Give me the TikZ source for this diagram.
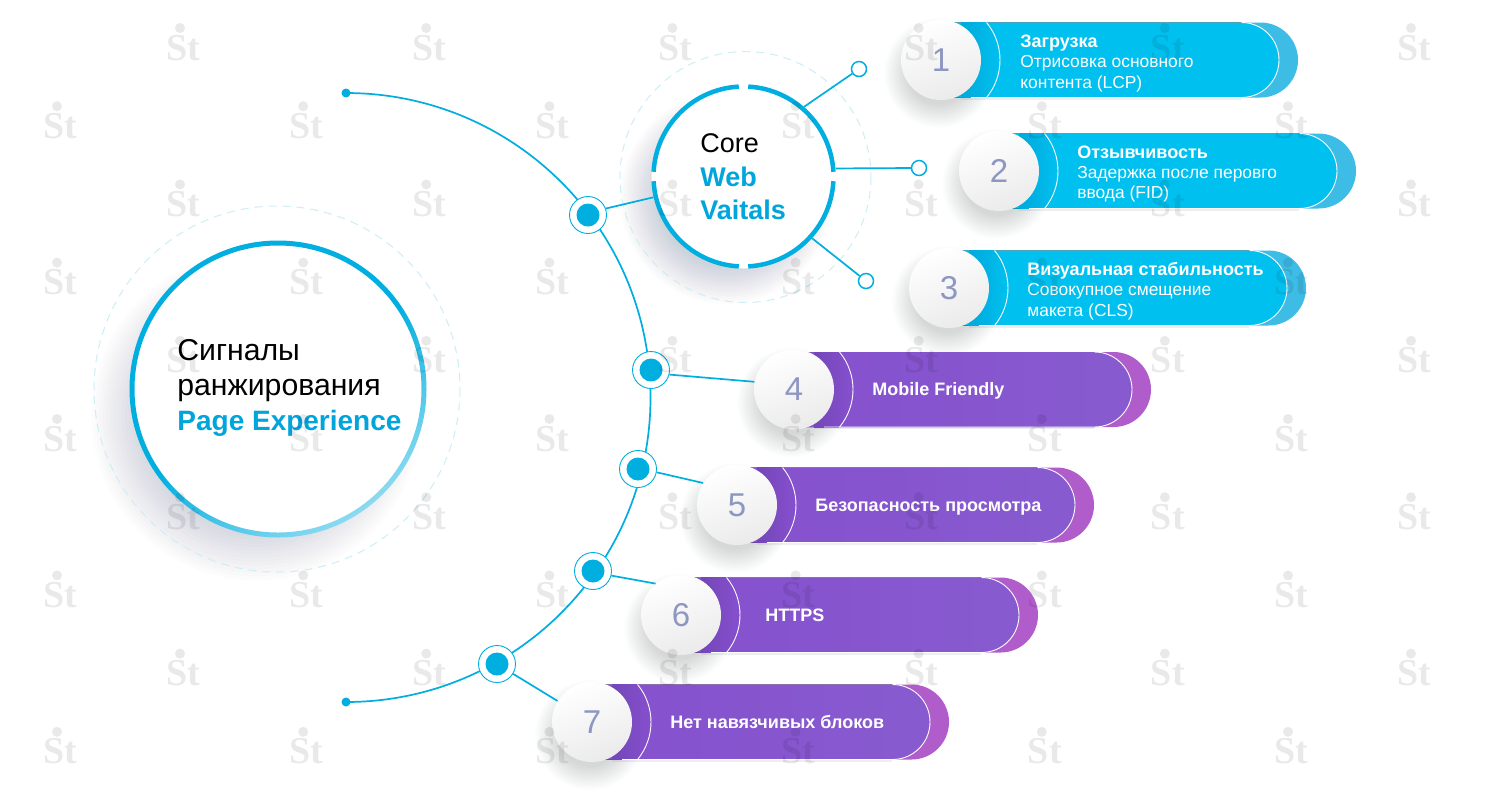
\documentclass[tikz,border=0pt]{standalone}
\usepackage{fontspec}
\setmainfont{Liberation Sans}
\newfontfamily\wmfont{Liberation Serif}
\definecolor{cyanline}{HTML}{00AEDF}
\definecolor{cyanbar}{HTML}{00C0EF}
\definecolor{cyanbardark}{HTML}{00A9DC}
\definecolor{cyanend}{HTML}{3DBCE6}
\definecolor{purpleft}{HTML}{8650CE}
\definecolor{purpbar}{HTML}{8F52D2}
\definecolor{purpbardark}{HTML}{7446B8}
\definecolor{purpright}{HTML}{875BCF}
\definecolor{purpend}{HTML}{B15CCB}
\definecolor{numcol}{HTML}{8E96C2}
\definecolor{dashcol}{HTML}{CDEEF7}
\definecolor{titlecol}{HTML}{00A5DB}
\definecolor{shadowcol}{HTML}{52627A}
\tikzset{
  conn/.style={draw=cyanline,line width=.85pt},
  dashring/.style={draw=dashcol,line width=.5pt,dash pattern=on 4pt off 3pt},
  hubring/.style={circle,draw=cyanline,line width=.45pt,fill=white,minimum size=18.5pt,inner sep=0pt},
  hubdot/.style={circle,fill=cyanline,minimum size=11.5pt,inner sep=0pt},
  enddot/.style={circle,fill=cyanline,minimum size=4.5pt,inner sep=0pt},
  endring/.style={circle,draw=cyanline,line width=.75pt,fill=white,minimum size=7.5pt,inner sep=0pt},
  numc/.style={circle,minimum size=40pt,inner sep=0pt,left color=white,right color=black!8,shading angle=20,text=numcol,font=\fontsize{16.5}{18}\selectfont},
  bigt/.style={anchor=base west,inner sep=0pt,font=\fontsize{15.1}{16}\selectfont},
  coret/.style={anchor=base west,inner sep=0pt,font=\fontsize{13.5}{16}\selectfont},
  barhead/.style={anchor=base west,inner sep=0pt,text=white,font=\fontsize{9}{10}\selectfont\bfseries},
  barline/.style={anchor=base west,inner sep=0pt,text=white,font=\fontsize{8.7}{10}\selectfont},
  barone/.style={anchor=base west,inner sep=0pt,text=white,font=\fontsize{9}{10}\selectfont\bfseries},
  wm/.style={anchor=base,inner sep=0pt,text=black,text opacity=.085,font=\fontsize{19}{20}\selectfont\wmfont\bfseries}
}
% soft shadow as a stack of faint discs: #1 cx, #2 cy, #3 radius, #4 opacity per disc
\newcommand\softdisc[4]{
  \foreach \k in {1,...,20}{
    \fill[shadowcol,opacity=#4] (#1,#2) circle[radius={#3*(1-0.022*\k)}];
  }
}
% #1 cx, #2 cy, #3 end colour, #4 dark, #5 left, #6 main, #7 right, #8 name, #9 number
\newcommand\pillbar[9]{
  \softdisc{#1-2}{#2+13}{56}{.010}
  \fill[shadowcol,opacity=.10] (#1+20,#2+37.5) rectangle (#1+300,#2+39.5);
  \fill[#3] (#1,#2-37.5) -- ({#1+357-37.5},#2-37.5) arc[start angle=-90,end angle=90,radius=37.5] -- (#1,#2+37.5) -- cycle;
  \fill[left color=#5,middle color=#6,right color=#7] (#1,#2-37.5) -- ({#1+338-37.5},#2-37.5) arc[start angle=-90,end angle=90,radius=37.5] -- (#1,#2+37.5) -- cycle;
  \begin{scope}
    \clip (#1,#2) circle[radius=59];
    \fill[left color=#4,right color=#5] (#1+20,#2-37.5) rectangle (#1+59,#2+37.5);
  \end{scope}
  \draw[white,line width=.45pt] ({#1+338-37.5},#2-37.5) arc[start angle=-90,end angle=90,radius=37.5] -- (#1+30,#2+37.5);
  \draw[white,line width=.45pt] ({#1+59*cos(-39.5)},{#2+59*sin(-39.5)}) arc[start angle=-39.5,end angle=39.5,radius=59];
  \node[numc] (#8) at (#1,#2) {#9};
}
\newcommand\hubat[3]{
  \node[hubring] (#1) at (#2,#3) {};
  \node[hubdot] (#1d) at (#2,#3) {};
}
\begin{document}
\begin{tikzpicture}[x=.5pt,y=-.5pt]
\useasboundingbox (0,0) rectangle (1500,800);
\fill[white] (0,0) rectangle (1500,800);

% main circle
\softdisc{256}{416}{168}{.014}
\draw[dashring] (277,389) circle[radius=183];
\node[circle,fill=white,minimum size=148pt,inner sep=0pt] (big) at (278,389) {};
\shade[even odd rule,top color=cyanline,bottom color=cyanline!45,middle color=cyanline,shading angle=35]
  (278,389) circle[radius=148.5] (278,389) circle[radius=143.5];
\node[bigt] (bt1) at (177,360) {Сигналы};
\node[bigt] (bt2) at (177,395) {ранжирования};
\node[bigt,text=titlecol,font=\fontsize{14}{16}\selectfont\bfseries] (bt3) at (177,430) {Page Experience};

% core circle
\softdisc{726}{198}{108}{.016}
\draw[dashring] (745.5,177) circle[radius=125.5];
\node[circle,fill=white,minimum size=92pt,inner sep=0pt] (core) at (743.5,176.5) {};
\foreach \a in {0,90,180,270}{
  \draw[cyanline,line width=2.25pt] (core.center) ++(\a+3:90) arc[start angle=\a+3,end angle=\a+87,radius=90];
}
\node[coret] (ct1) at (700,152) {Core};
\node[coret,text=titlecol,font=\fontsize{13.5}{16}\selectfont\bfseries] (ct2) at (700,186) {Web};
\node[coret,text=titlecol,font=\fontsize{13.5}{16}\selectfont\bfseries] (ct3) at (700,219) {Vaitals};

% spine
\node[enddot] (topdot) at (346,93) {};
\node[enddot] (botdot) at (346,702) {};
\draw[conn] (topdot.center) arc[start angle=-90,end angle=90,radius=304.5];

% bars
\pillbar{941}{60}{cyanend}{cyanbardark}{cyanbar}{cyanbar}{cyanbar}{n1}{1}
\pillbar{999}{171}{cyanend}{cyanbardark}{cyanbar}{cyanbar}{cyanbar}{n2}{2}
\pillbar{949}{288}{cyanend}{cyanbardark}{cyanbar}{cyanbar}{cyanbar}{n3}{3}
\pillbar{794}{389.5}{purpend}{purpbardark}{purpleft}{purpbar}{purpright}{n4}{4}
\pillbar{737}{505}{purpend}{purpbardark}{purpleft}{purpbar}{purpright}{n5}{5}
\pillbar{681}{615}{purpend}{purpbardark}{purpleft}{purpbar}{purpright}{n6}{6}
\pillbar{592}{722}{purpend}{purpbardark}{purpleft}{purpbar}{purpright}{n7}{7}

% hubs
\hubat{h1}{588}{215}
\hubat{h4}{651}{370}
\hubat{h5}{638}{469}
\hubat{h6}{593}{571}
\hubat{h7}{497}{664}

% end rings
\node[endring] (e1) at (859,69) {};
\node[endring] (e2) at (919,168) {};
\node[endring] (e3) at (866,281) {};

% connectors
\draw[conn] (core.49) -- (e1);
\draw[conn] (core.5) -- (e2.west);
\draw[conn] (core.-42) -- (e3);
\draw[conn] (h1.20) -- (core.193);
\draw[conn] (h4.-14) -- (n4.169);
\draw[conn] (h5.-10) -- (n5.147);
\draw[conn] (h6.-14) -- (n6.129);
\draw[conn] (h7) -- (n7);

% bar labels
\node[barhead] (l1a) at (1020,47) {Загрузка};
\node[barline] (l1b) at (1020,67) {Отрисовка основного};
\node[barline] (l1c) at (1020,88) {контента (LCP)};
\node[barhead] (l2a) at (1077,158) {Отзывчивость};
\node[barline] (l2b) at (1077,178) {Задержка после перовго};
\node[barline] (l2c) at (1077,198) {ввода (FID)};
\node[barhead] (l3a) at (1027,275) {Визуальная стабильность};
\node[barline] (l3b) at (1027,295) {Совокупное смещение};
\node[barline] (l3c) at (1027,316) {макета (CLS)};
\node[barone] (l4) at (872,395) {Mobile Friendly};
\node[barone] (l5) at (815,511) {Безопасность просмотра};
\node[barone] (l6) at (765,621) {HTTPS};
\node[barone] (l7) at (670,728) {Нет навязчивых блоков};

% watermark
\foreach \r in {0,...,9}{
  \foreach \c in {0,...,5}{
    \pgfmathsetmacro{\wy}{41+78.2*\r}
    \pgfmathsetmacro{\wx}{(mod(\r,2)==0 ? 183 : 60)+246.2*\c}
    \node[wm] (wm\r\c) at (\wx,\wy+19) {St};
    \fill[black,opacity=.085] (\wx-3,\wy-13) circle[radius=5];
  }
}
\end{tikzpicture}
\end{document}
